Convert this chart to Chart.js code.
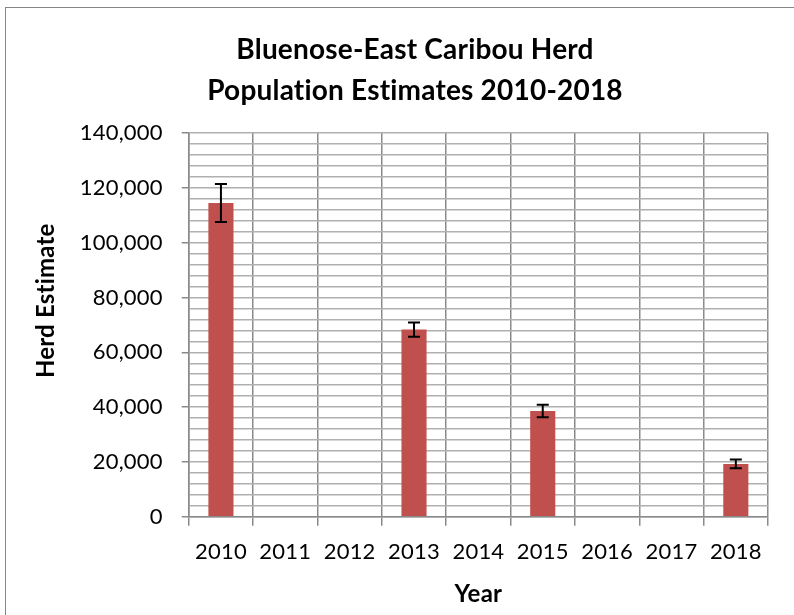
<!DOCTYPE html>
<html>
<head>
<meta charset="utf-8">
<script src="https://cdn.jsdelivr.net/npm/chart.js@4"></script>
<style>
  html, body { margin: 0; padding: 0; background: #fff; overflow: hidden; }
  #frame { position: absolute; left: 5px; top: 7px; width: 900px; height: 700px; border: 1.5px solid #868686; }
  #wrap { position: absolute; left: 0; top: 0; width: 828px; height: 615px; }
</style>
</head>
<body>
<div id="frame"></div>
<div id="wrap"><canvas id="herdChart"></canvas></div>
<script>
// ── data ──
const years = ['2010', '2011', '2012', '2013', '2014', '2015', '2016', '2017', '2018'];
const estimates = [114472, null, null, 68295, null, 38592, null, null, 19294];
const errors = [6900, null, null, 2600, null, 2250, null, null, 1600];
const titleLines = ['Bluenose-East Caribou Herd', 'Population Estimates 2010-2018'];

const FONT = 'Lato, "Open Sans", sans-serif';

// small letter spacing keeps Lato from joining "ti"
const spacing = {
    id: 'spacing',
    beforeLayout(chart) { chart.ctx.letterSpacing = '0.2px'; },
    beforeDraw(chart) { chart.ctx.letterSpacing = '0.2px'; }
};

// error bars drawn through the y scale
const errorBars = {
    id: 'errorBars',
    afterDatasetsDraw(chart) {
        const meta = chart.getDatasetMeta(0);
        const y = chart.scales.y;
        const ctx = chart.ctx;
        ctx.save();
        ctx.strokeStyle = '#000';
        ctx.lineWidth = 2;
        estimates.forEach((v, i) => {
            if (v == null || errors[i] == null) return;
            const x = meta.data[i].x;
            const top = y.getPixelForValue(v + errors[i]);
            const bot = y.getPixelForValue(v - errors[i]);
            ctx.beginPath();
            ctx.moveTo(x, top); ctx.lineTo(x, bot);
            ctx.moveTo(x - 6, top); ctx.lineTo(x + 6, top);
            ctx.moveTo(x - 6, bot); ctx.lineTo(x + 6, bot);
            ctx.stroke();
        });
        ctx.restore();
    }
};

new Chart(document.getElementById('herdChart'), {
    type: 'bar',
    data: {
        labels: years,
        datasets: [{
            label: 'Herd Estimate',
            data: estimates,
            backgroundColor: '#C0504D',
            borderWidth: 0,
            categoryPercentage: 1,
            barPercentage: 0.39
        }]
    },
    options: {
        responsive: true,
        maintainAspectRatio: false,
        animation: false,
        layout: { padding: { left: 32, top: 8, right: 30, bottom: 6 } },
        plugins: {
            legend: { display: false },
            tooltip: { enabled: false },
            title: {
                display: true,
                text: titleLines,
                color: '#000',
                font: { family: FONT, size: 28, weight: 'bold', lineHeight: 1.464 },
                padding: { top: 21, bottom: 22 }
            }
        },
        scales: {
            x: {
                grid: { color: '#8a8a8a', lineWidth: 1.5, tickLength: 9, tickColor: '#8a8a8a' },
                border: { color: '#8a8a8a', width: 1.5 },
                ticks: { color: '#000', font: { family: FONT, size: 22 }, padding: 13, maxRotation: 0 },
                title: {
                    display: true, text: 'Year', color: '#000',
                    font: { family: FONT, size: 24, weight: 'bold' },
                    padding: { top: 2, bottom: 0 }
                }
            },
            y: {
                min: 0,
                max: 140000,
                grid: {
                    color: '#b0b0b0',
                    lineWidth: 1.5,
                    tickLength: 7,
                    tickColor: c => (c.tick && c.tick.value % 20000 === 0) ? '#8a8a8a' : 'rgba(0,0,0,0)'
                },
                border: { color: '#8a8a8a', width: 1.5 },
                ticks: {
                    stepSize: 4000,
                    autoSkip: false,
                    color: '#000',
                    font: { family: FONT, size: 22 },
                    padding: 19,
                    callback: v => v % 20000 === 0 ? v.toLocaleString('en-US') : ''
                },
                title: {
                    display: true,
                    // leading spaces lift the title a little above the plot's middle, as in the reference
                    text: '        Herd Estimate',
                    color: '#000',
                    font: { family: FONT, size: 24, weight: 'bold' },
                    padding: { top: 0, bottom: 0 }
                }
            },
            // empty right-hand box: keeps the plot's right edge where the reference has it
            pad: {
                type: 'linear',
                position: 'right',
                display: true,
                grid: { display: false },
                border: { display: false },
                ticks: { display: false },
                afterFit: s => { s.width = 30; }
            }
        }
    },
    plugins: [spacing, errorBars]
});
</script>
</body>
</html>
